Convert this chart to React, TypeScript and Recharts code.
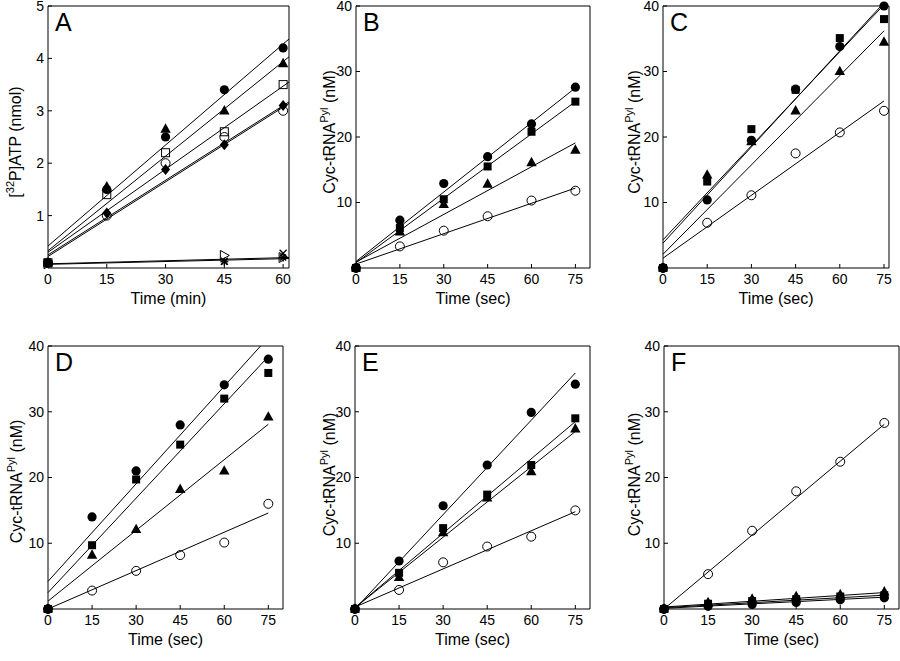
import React from 'react';
import { ComposedChart, XAxis, YAxis, Scatter, Line } from 'recharts';

const FONT = '"Liberation Sans", Arial, Helvetica, sans-serif';

// ---------- Tick labels ----------
const aXTicks = [0, 15, 30, 45, 60];
const secXTicks = [0, 15, 30, 45, 60, 75];
const aYTicks = [1, 2, 3, 4, 5];
const nmYTicks = [10, 20, 30, 40];

// ---------- Panel A ([32P]ATP, nmol vs min) ----------
const aTime = [0, 15, 30, 45, 60];
const aTimeLow = [0, 45, 60];
const aFilledCircle = [0.1, 1.5, 2.5, 3.4, 4.2];
const aFilledTriangle = [0.1, 1.55, 2.65, 3.0, 3.9];
const aOpenSquare = [0.1, 1.4, 2.2, 2.6, 3.5];
const aOpenCircle = [0.1, 1.0, 2.0, 2.5, 3.0];
const aFilledDiamond = [0.1, 1.05, 1.88, 2.35, 3.1];
const aOpenTriRight = [0.08, 0.24, 0.2];
const aCross = [0.08, 0.13, 0.28];
const aStar = [0.08, 0.12, 0.2];
const aFitX = [0, 61.5];
const aFitStart = [0.42, 0.33, 0.3, 0.25, 0.22, 0.08, 0.07];
const aFitEnd = [4.37, 4.03, 3.55, 3.17, 3.14, 0.2, 0.18];

// ---------- Panel B ----------
const bFilledCircle = [0, 7.3, 12.9, 17, 22, 27.6];
const bFilledSquare = [0, 6.1, 10.5, 15.5, 20.8, 25.4];
const bFilledTriangle = [0, 5.5, 9.7, 12.8, 16.1, 18];
const bOpenCircle = [0, 3.3, 5.7, 7.9, 10.3, 11.8];
const bFitStart = [1.0, 0.8, 0.9, 0.6];
const bFitEnd = [27.5, 25.4, 19.1, 12.2];

// ---------- Panel C ----------
const cFilledCircle = [0, 10.4, 19.5, 27.3, 33.8, 40];
const cFilledSquare = [0, 13.2, 21.2, 27.2, 35.1, 38];
const cFilledTriangle = [0, 14.2, 19.3, 24, 30, 34.5];
const cOpenCircle = [0, 6.9, 11.1, 17.5, 20.7, 24];
const cFitStart = [4.3, 3.8, 2.1, 1.5];
const cFitEnd = [40.2, 40.5, 36.2, 25.5];

// ---------- Panel D ----------
const dFilledCircle = [0, 14, 21, 28, 34.1, 38];
const dFilledSquare = [0, 9.7, 19.7, 25, 32, 35.9];
const dFilledTriangle = [0, 8.2, 12.1, 18.2, 21, 29.2];
const dOpenCircle = [0, 2.8, 5.8, 8.2, 10.1, 16];
const dFitStart = [4.2, 2.5, 1.2, 0];
const dFitEnd = [41.3, 38.4, 28.1, 14.6];

// ---------- Panel E ----------
const eFilledCircle = [0, 7.3, 15.7, 21.9, 29.9, 34.2];
const eFilledSquare = [0, 5.5, 12.3, 17.4, 21.9, 29];
const eFilledTriangle = [0, 4.8, 11.6, 16.9, 20.9, 27.4];
const eOpenCircle = [0, 2.9, 7.1, 9.5, 11, 15];
const eFitStart = [0, 0.2, 0.2, 0.3];
const eFitEnd = [35.9, 28.5, 27, 14.8];

// ---------- Panel F ----------
const fOpenCircle = [0, 5.3, 11.9, 17.9, 22.4, 28.3];
const fFilledTriangle = [0, 1.0, 1.5, 1.9, 2.2, 2.6];
const fFilledSquare = [0, 0.8, 1.2, 1.5, 1.9, 2.1];
const fFilledCircle = [0, 0.4, 0.7, 1.0, 1.4, 1.7];
const fFitStart = [0, 0.3, 0.2, 0.1];
const fFitEnd = [28.1, 2.5, 2.1, 1.8];

const secFitX = [0, 75];

type Kind = 'cf' | 'co' | 'tf' | 'sf' | 'so' | 'df' | 'tro' | 'x' | 'star';

function drawMarker(kind: Kind, cx: number, cy: number) {
  const k = '#000';
  switch (kind) {
    case 'cf':
      return <circle cx={cx} cy={cy} r={4.6} fill={k} />;
    case 'co':
      return <circle cx={cx} cy={cy} r={4.5} fill="none" stroke={k} strokeWidth={1} />;
    case 'tf':
      return (
        <polygon
          points={`${cx},${cy - 5.8} ${cx - 5.2},${cy + 3.6} ${cx + 5.2},${cy + 3.6}`}
          fill={k}
        />
      );
    case 'sf':
      return <rect x={cx - 4} y={cy - 4} width={8} height={8} fill={k} />;
    case 'so':
      return <rect x={cx - 4} y={cy - 4} width={8} height={8} fill="none" stroke={k} strokeWidth={1} />;
    case 'df':
      return (
        <polygon
          points={`${cx},${cy - 5.5} ${cx + 4.5},${cy} ${cx},${cy + 5.5} ${cx - 4.5},${cy}`}
          fill={k}
        />
      );
    case 'tro':
      return (
        <polygon
          points={`${cx - 4},${cy - 5} ${cx + 5},${cy} ${cx - 4},${cy + 5}`}
          fill="none"
          stroke={k}
          strokeWidth={1}
        />
      );
    case 'x':
      return (
        <g stroke={k} strokeWidth={1.3}>
          <line x1={cx - 3.5} y1={cy - 3.5} x2={cx + 3.5} y2={cy + 3.5} />
          <line x1={cx - 3.5} y1={cy + 3.5} x2={cx + 3.5} y2={cy - 3.5} />
        </g>
      );
    case 'star':
    default:
      return (
        <g stroke={k} strokeWidth={1.3}>
          <line x1={cx - 4} y1={cy} x2={cx + 4} y2={cy} />
          <line x1={cx} y1={cy - 4} x2={cx} y2={cy + 4} />
          <line x1={cx - 3} y1={cy - 3} x2={cx + 3} y2={cy + 3} />
          <line x1={cx - 3} y1={cy + 3} x2={cx + 3} y2={cy - 3} />
        </g>
      );
  }
}

const shapeFor = (kind: Kind) => (p: any) => {
  if (p == null || p.cx == null || p.cy == null) return <g />;
  return drawMarker(kind, p.cx, p.cy);
};

type SeriesDef = { kind: Kind; x: number[]; y: number[] };

const zip = (xs: number[], ys: number[]) => xs.map((x, i) => ({ x, y: ys[i] }));

type PanelProps = {
  left: number;
  top: number;
  width: number;
  height: number;
  marginTop: number;
  marginRight: number;
  yAxisWidth: number;
  xDomain: [number, number];
  xTicks: number[];
  yDomain: [number, number];
  yTicks: number[];
  series: SeriesDef[];
  fitX: number[];
  fitStart: number[];
  fitEnd: number[];
  letter: string;
  xLabel: string;
  yLabel: 'atp' | 'cyc';
  yLabelOffset: number;
  yLabelShift: number;
};

function Panel(p: PanelProps) {
  const tickStyle = { fill: '#000', fontSize: 14, fontFamily: FONT };
  const innerTicks = p.xTicks.filter((t) => t > p.xDomain[0]);
  return (
    <div style={{ position: 'absolute', left: p.left, top: p.top }}>
      <ComposedChart
        width={p.width}
        height={p.height}
        margin={{ top: p.marginTop, right: p.marginRight, bottom: 0, left: 0 }}
      >
        <XAxis
          xAxisId="b"
          type="number"
          dataKey="x"
          domain={p.xDomain}
          ticks={p.xTicks}
          interval={0}
          height={52}
          tickSize={-4}
          tickMargin={10}
          stroke="#000"
          tick={tickStyle}
          label={{
            content: (lp: any) => {
              const vb = lp.viewBox || { x: 0, y: 0, width: 0 };
              return (
                <text
                  x={vb.x + vb.width / 2}
                  y={vb.y + 36}
                  textAnchor="middle"
                  fontFamily={FONT}
                  fontSize={16}
                  fill="#000"
                >
                  {p.xLabel}
                </text>
              );
            },
          }}
        />
        <XAxis
          xAxisId="t"
          orientation="top"
          type="number"
          dataKey="x"
          domain={p.xDomain}
          ticks={innerTicks}
          interval={0}
          height={1}
          tickSize={-4}
          tick={false}
          stroke="#000"
          label={{
            content: (lp: any) => {
              const vb = lp.viewBox || { x: 0, y: 0 };
              return (
                <text x={vb.x + 7} y={vb.y + 26} fontFamily={FONT} fontSize={25} fill="#000">
                  {p.letter}
                </text>
              );
            },
          }}
        />
        <YAxis
          yAxisId="l"
          orientation="left"
          type="number"
          dataKey="y"
          domain={p.yDomain}
          ticks={p.yTicks}
          interval={0}
          width={p.yAxisWidth}
          tickSize={-4}
          tickMargin={8}
          stroke="#000"
          tick={tickStyle}
          label={{
            content: (lp: any) => {
              const vb = lp.viewBox || { x: 0, y: 0, width: 0, height: 0 };
              const bx = vb.x + vb.width - p.yLabelOffset;
              const cy = vb.y + vb.height / 2 + p.yLabelShift;
              return (
                <text
                  x={bx}
                  y={cy}
                  transform={`rotate(-90 ${bx} ${cy})`}
                  textAnchor="middle"
                  fontFamily={FONT}
                  fontSize={16}
                  fill="#000"
                >
                  {p.yLabel === 'atp' ? (
                    <>
                      [<tspan fontSize={11} dy={-7}>32</tspan>
                      <tspan dy={7}>P]ATP (nmol)</tspan>
                    </>
                  ) : (
                    <>
                      Cyc-tRNA<tspan fontSize={11} dy={-7}>Pyl</tspan>
                      <tspan dy={7}> (nM)</tspan>
                    </>
                  )}
                </text>
              );
            },
          }}
        />
        <YAxis
          yAxisId="r"
          orientation="right"
          type="number"
          dataKey="y"
          domain={p.yDomain}
          ticks={p.yTicks}
          interval={0}
          width={1}
          tickSize={-4}
          tick={false}
          allowDataOverflow
          stroke="#000"
        />
        {p.fitStart.map((s, i) => (
          <Line
            key={`fit-${i}`}
            xAxisId="b"
            yAxisId="r"
            data={[
              { x: p.fitX[0], y: s },
              { x: p.fitX[1], y: p.fitEnd[i] },
            ]}
            dataKey="y"
            type="linear"
            stroke="#000"
            strokeWidth={1}
            dot={false}
            activeDot={false}
            isAnimationActive={false}
          />
        ))}
        {p.series.map((s, i) => (
          <Scatter
            key={`sc-${i}`}
            xAxisId="b"
            yAxisId="l"
            data={zip(s.x, s.y)}
            dataKey="y"
            shape={shapeFor(s.kind)}
            isAnimationActive={false}
          />
        ))}
      </ComposedChart>
    </div>
  );
}

const secSeries = (c: number[], sq: number[], tr: number[], oc: number[]): SeriesDef[] => [
  { kind: 'co', x: secXTicks, y: oc },
  { kind: 'tf', x: secXTicks, y: tr },
  { kind: 'sf', x: secXTicks, y: sq },
  { kind: 'cf', x: secXTicks, y: c },
];

export default function App() {
  const aSeries: SeriesDef[] = [
    { kind: 'tro', x: aTimeLow, y: aOpenTriRight },
    { kind: 'x', x: aTimeLow, y: aCross },
    { kind: 'star', x: aTimeLow, y: aStar },
    { kind: 'co', x: aTime, y: aOpenCircle },
    { kind: 'so', x: aTime, y: aOpenSquare },
    { kind: 'df', x: aTime, y: aFilledDiamond },
    { kind: 'tf', x: aTime, y: aFilledTriangle },
    { kind: 'cf', x: aTime, y: aFilledCircle },
  ];
  return (
    <div
      style={{
        position: 'absolute',
        left: 0,
        top: 0,
        width: 900,
        height: 661,
        background: '#fff',
        overflow: 'hidden',
      }}
    >
      <Panel
        left={0}
        top={0}
        width={300}
        height={320}
        marginTop={5}
        marginRight={10}
        yAxisWidth={48}
        xDomain={[0, 61.5]}
        xTicks={aXTicks}
        yDomain={[0, 5]}
        yTicks={aYTicks}
        series={aSeries}
        fitX={aFitX}
        fitStart={aFitStart}
        fitEnd={aFitEnd}
        letter="A"
        xLabel="Time (min)"
        yLabel="atp"
        yLabelOffset={27}
        yLabelShift={5}
      />
      <Panel
        left={300}
        top={0}
        width={300}
        height={320}
        marginTop={5}
        marginRight={9}
        yAxisWidth={56}
        xDomain={[0, 80]}
        xTicks={secXTicks}
        yDomain={[0, 40]}
        yTicks={nmYTicks}
        series={secSeries(bFilledCircle, bFilledSquare, bFilledTriangle, bOpenCircle)}
        fitX={secFitX}
        fitStart={bFitStart}
        fitEnd={bFitEnd}
        letter="B"
        xLabel="Time (sec)"
        yLabel="cyc"
        yLabelOffset={21}
        yLabelShift={-5}
      />
      <Panel
        left={600}
        top={0}
        width={300}
        height={320}
        marginTop={5}
        marginRight={10}
        yAxisWidth={63}
        xDomain={[0, 76.7]}
        xTicks={secXTicks}
        yDomain={[0, 40]}
        yTicks={nmYTicks}
        series={secSeries(cFilledCircle, cFilledSquare, cFilledTriangle, cOpenCircle)}
        fitX={secFitX}
        fitStart={cFitStart}
        fitEnd={cFitEnd}
        letter="C"
        xLabel="Time (sec)"
        yLabel="cyc"
        yLabelOffset={23}
        yLabelShift={-5}
      />
      <Panel
        left={0}
        top={320}
        width={300}
        height={341}
        marginTop={25}
        marginRight={16}
        yAxisWidth={48}
        xDomain={[0, 80]}
        xTicks={secXTicks}
        yDomain={[0, 40]}
        yTicks={nmYTicks}
        series={secSeries(dFilledCircle, dFilledSquare, dFilledTriangle, dOpenCircle)}
        fitX={secFitX}
        fitStart={dFitStart}
        fitEnd={dFitEnd}
        letter="D"
        xLabel="Time (sec)"
        yLabel="cyc"
        yLabelOffset={26}
        yLabelShift={4}
      />
      <Panel
        left={300}
        top={320}
        width={300}
        height={341}
        marginTop={25}
        marginRight={9}
        yAxisWidth={55}
        xDomain={[0, 80]}
        xTicks={secXTicks}
        yDomain={[0, 40]}
        yTicks={nmYTicks}
        series={secSeries(eFilledCircle, eFilledSquare, eFilledTriangle, eOpenCircle)}
        fitX={secFitX}
        fitStart={eFitStart}
        fitEnd={eFitEnd}
        letter="E"
        xLabel="Time (sec)"
        yLabel="cyc"
        yLabelOffset={20}
        yLabelShift={-3}
      />
      <Panel
        left={600}
        top={320}
        width={300}
        height={341}
        marginTop={25}
        marginRight={0}
        yAxisWidth={64}
        xDomain={[0, 80]}
        xTicks={secXTicks}
        yDomain={[0, 40]}
        yTicks={nmYTicks}
        series={secSeries(fFilledCircle, fFilledSquare, fFilledTriangle, fOpenCircle)}
        fitX={secFitX}
        fitStart={fFitStart}
        fitEnd={fFitEnd}
        letter="F"
        xLabel="Time (sec)"
        yLabel="cyc"
        yLabelOffset={24}
        yLabelShift={-3}
      />
    </div>
  );
}
